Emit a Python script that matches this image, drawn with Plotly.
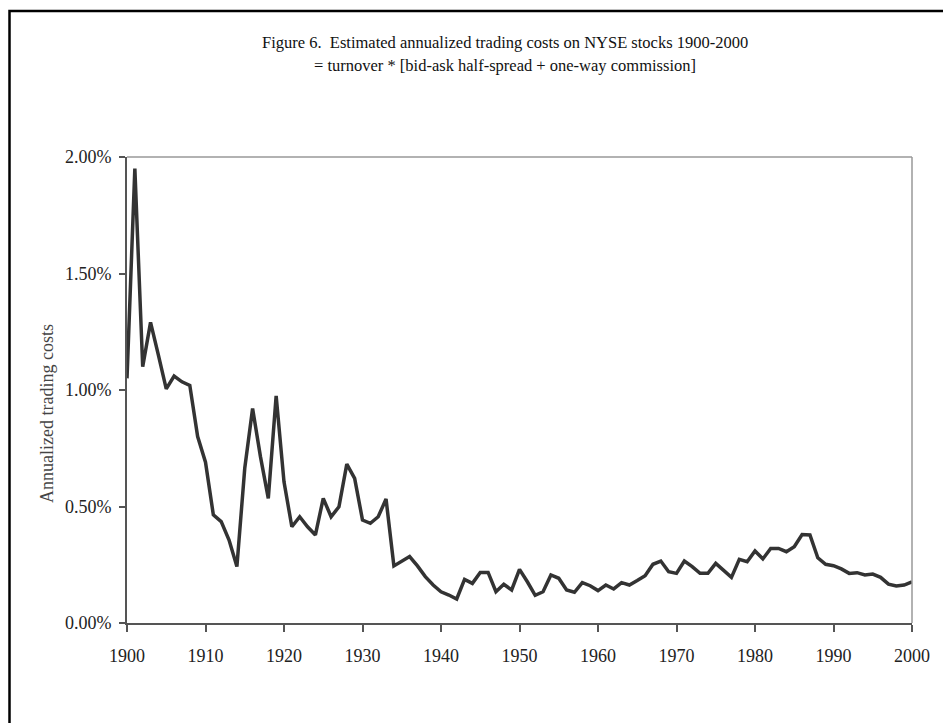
import plotly.graph_objects as go

years = list(range(1900, 2001))
costs_pct = [
    1.05, 1.95, 1.10, 1.29, 1.15, 1.005, 1.06, 1.035, 1.02, 0.80,
    0.69, 0.464, 0.435, 0.356, 0.242, 0.664, 0.921, 0.714, 0.535, 0.975,
    0.606, 0.413, 0.456, 0.413, 0.378, 0.535, 0.456, 0.499, 0.682, 0.621,
    0.442, 0.428, 0.456, 0.532, 0.245, 0.263, 0.285, 0.245, 0.199, 0.163,
    0.134, 0.12, 0.103, 0.187, 0.170, 0.217, 0.217, 0.134, 0.166, 0.142,
    0.23, 0.177, 0.119, 0.134, 0.206, 0.192, 0.142, 0.132, 0.173, 0.16,
    0.139, 0.163, 0.146, 0.173, 0.163, 0.182, 0.203, 0.252, 0.266, 0.22,
    0.213, 0.266, 0.242, 0.213, 0.213, 0.256, 0.225, 0.196, 0.273, 0.263,
    0.309, 0.275, 0.32, 0.32, 0.306, 0.327, 0.38, 0.378, 0.28, 0.252,
    0.246, 0.232, 0.213, 0.216, 0.206, 0.21, 0.196, 0.167, 0.159, 0.163,
    0.177,
]
x_ticks = [1900, 1910, 1920, 1930, 1940, 1950, 1960, 1970, 1980, 1990, 2000]
y_ticks = [0.0, 0.5, 1.0, 1.5, 2.0]
title_line1 = "Figure 6.  Estimated annualized trading costs on NYSE stocks 1900-2000"
title_line2 = "= turnover * [bid-ask half-spread + one-way commission]"
y_title = "Annualized trading costs"

W, H = 951, 723
OFF = 8  # page body margin
L, R, T, B = 127 - OFF, 912 - OFF, 157 - OFF, 623 - OFF

def px(x):
    x = x - OFF
    return (x - L) / (R - L)

def py(y):
    y = y - OFF
    return (B - y) / (B - T)

serif = "Liberation Serif, Times New Roman, serif"

fig = go.Figure()
fig.add_trace(go.Scatter(
    x=years, y=costs_pct, mode="lines",
    line=dict(color="#333333", width=3.5),
    hoverinfo="x+y", showlegend=False,
))

fig.update_layout(
    width=W, height=H,
    margin=dict(l=L, r=W - R, t=T, b=H - B),
    paper_bgcolor="white", plot_bgcolor="white",
    font=dict(family=serif, size=16, color="#222222"),
    xaxis=dict(
        range=[1900, 2000], tickvals=x_ticks, ticktext=[str(v) for v in x_ticks],
        showgrid=False, zeroline=False,
        showline=True, linecolor="#555555", linewidth=2,
        ticks="outside", ticklen=7, tickwidth=1.5, tickcolor="#555555",
        ticklabelstandoff=8,
        tickfont=dict(family=serif, size=18, color="#222222"),
    ),
    yaxis=dict(
        range=[0, 2], tickvals=y_ticks, ticktext=[f"{v:.2f}%" for v in y_ticks],
        showgrid=False, zeroline=False,
        showline=True, linecolor="#555555", linewidth=2,
        ticks="outside", ticklen=6, tickwidth=1.5, tickcolor="#555555",
        ticklabelstandoff=4,
        tickfont=dict(family=serif, size=18, color="#222222"),
    ),
    shapes=[
        dict(type="line", xref="paper", yref="paper", x0=0, x1=1, y0=1, y1=1,
             line=dict(color="#999999", width=1.5)),
        dict(type="line", xref="paper", yref="paper", x0=1, x1=1, y0=0, y1=1,
             line=dict(color="#999999", width=1.5)),
        dict(type="rect", xref="paper", yref="paper",
             x0=px(9.5), x1=px(975), y0=py(745), y1=py(11),
             line=dict(color="black", width=2.5), layer="below"),
    ],
    annotations=[
        dict(text=title_line1, xref="paper", yref="paper", x=px(505), y=py(42),
             showarrow=False, xanchor="center", yanchor="middle",
             font=dict(family=serif, size=16.5, color="#111111")),
        dict(text=title_line2, xref="paper", yref="paper", x=px(505), y=py(66),
             showarrow=False, xanchor="center", yanchor="middle",
             font=dict(family=serif, size=16.5, color="#111111")),
        dict(text=y_title, xref="paper", yref="paper", x=px(47), y=py(414),
             showarrow=False, xanchor="center", yanchor="middle", textangle=-90,
             font=dict(family=serif, size=18, color="#444444")),
    ],
)

fig.write_html("out.html")
